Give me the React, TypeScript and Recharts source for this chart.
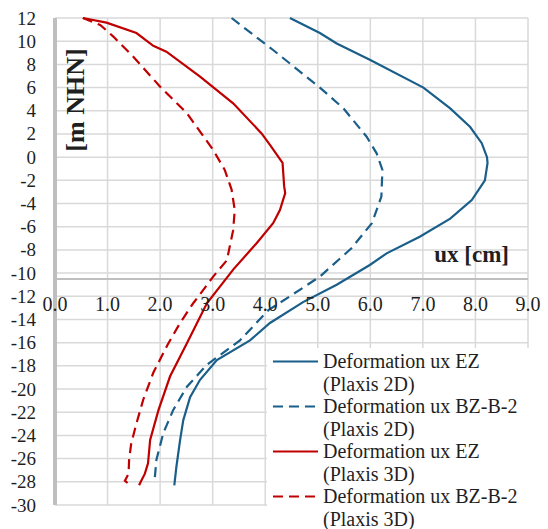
import React from 'react'
import { ScatterChart, Scatter, XAxis, YAxis, CartesianGrid, ReferenceLine, Legend } from 'recharts'

// values: ux in cm, z in m NHN
const uxTicks = [0, 1, 2, 3, 4, 5, 6, 7, 8, 9]
const elevationTicks = [12, 10, 8, 6, 4, 2, 0, -2, -4, -6, -8, -10, -12, -14, -16, -18, -20, -22, -24, -26, -28, -30]
const axisCrossing = -10.5

const ezPlaxis2D = [
  [4.47, 12], [5.04, 10.7], [5.36, 9.8], [5.99, 8.4], [7.01, 6.0], [7.52, 4.2], [7.9, 2.6],
  [8.12, 1.2], [8.22, 0], [8.23, -0.5], [8.18, -2.0], [7.93, -3.7], [7.52, -5.3], [6.94, -6.86],
  [6.31, -8.3], [5.99, -9.3], [5.36, -11.0], [4.72, -12.5], [4.09, -14.3], [3.71, -15.8],
  [3.08, -17.5], [2.76, -19.2], [2.57, -20.7], [2.44, -22.7], [2.38, -24.4], [2.31, -26.7], [2.27, -28.3],
]
const bzPlaxis2D = [
  [3.36, 12], [4.15, 9.24], [5.04, 6.0], [5.49, 4.2], [5.93, 1.76], [6.12, 0.33], [6.23, -1.1],
  [6.21, -3.4], [6.03, -5.7], [5.64, -7.86], [5.04, -10.3], [4.47, -12.0], [4.06, -13.2],
  [3.52, -15.8], [2.89, -17.9], [2.51, -19.8], [2.25, -21.8], [2.06, -23.8], [1.93, -26.1], [1.9, -27.6],
]
const ezPlaxis3D = [
  [0.53, 12], [0.98, 11.6], [1.55, 10.7], [1.87, 9.6], [2.12, 9.1], [2.76, 6.94], [3.39, 4.64],
  [3.93, 2.05], [4.09, 1.05], [4.33, -0.5], [4.36, -2.5], [4.38, -3.1], [4.28, -4.56], [4.15, -5.7],
  [3.84, -7.4], [3.39, -9.7], [2.89, -12.6], [2.51, -16.06], [2.19, -18.9], [1.97, -21.8],
  [1.81, -24.4], [1.77, -26.4], [1.71, -27.3], [1.62, -28.1], [1.6, -28.3],
]
const bzPlaxis3D = [
  [0.53, 12], [0.86, 11.4], [1.11, 10.4], [1.49, 8.66], [2.0, 6.08], [2.51, 3.78], [3.01, 0.62],
  [3.23, -1.1], [3.36, -2.8], [3.42, -4.56], [3.39, -6.3], [3.27, -8.9], [3.01, -10.3], [2.63, -12.6],
  [2.38, -14.3], [2.14, -16.2], [1.87, -18.6], [1.68, -20.9], [1.55, -22.96], [1.45, -24.7],
  [1.41, -26.1], [1.4, -27.3], [1.33, -27.9], [1.38, -28.1],
]

const seriesNames = ['Deformation ux EZ', 'Deformation ux BZ-B-2', 'Deformation ux EZ', 'Deformation ux BZ-B-2']
const seriesSubs = ['(Plaxis 2D)', '(Plaxis 2D)', '(Plaxis 3D)', '(Plaxis 3D)']

const BLUE = '#1a5e8a'
const RED = '#c00000'
const DASH = '10 6'
const SERIF = '"Liberation Serif", "Times New Roman", serif'
const TEXT = '#1f1f1f'

const W = 548
const H = 529
const M = { top: 18, right: 20, bottom: 0, left: 0 }
const X_AXIS_H = 24
const Y_AXIS_W = 55
const plotH = H - M.top - M.bottom - X_AXIS_H
const yPx = (v: number) => M.top + ((12 - v) / 42) * plotH

const series = [
  { data: ezPlaxis2D, color: BLUE, dash: undefined },
  { data: bzPlaxis2D, color: BLUE, dash: DASH },
  { data: ezPlaxis3D, color: RED, dash: undefined },
  { data: bzPlaxis3D, color: RED, dash: DASH },
].map((s, i) => ({
  ...s,
  name: seriesNames[i],
  sub: seriesSubs[i],
  points: s.data.map(([ux, z]) => ({ ux, z })),
}))

// x tick labels sit just under the crossing axis line, not at the plot bottom
const XTick = (p: any) => (
  <text x={p.x} y={yPx(-12.7)} textAnchor="middle" dominantBaseline="central"
    fontFamily={SERIF} fontSize={20} fill={TEXT}>
    {Number(p.payload.value).toFixed(1)}
  </text>
)

const YTick = (p: any) => (
  <text x={36} y={p.y} textAnchor="end" dominantBaseline="central"
    fontFamily={SERIF} fontSize={19} fill={TEXT}>
    {p.payload.value}
  </text>
)

const renderLegend = () => (
  <div style={{ fontFamily: SERIF, fontSize: 20, color: TEXT, lineHeight: '22.5px', paddingTop: 2 }}>
    {series.map((s, i) => (
      <div key={i} style={{ display: 'flex' }}>
        <svg width={56} height={22} style={{ flex: 'none' }}>
          <line x1={6} x2={51} y1={11.5} y2={11.5} stroke={s.color} strokeWidth={2.2} strokeDasharray={s.dash} />
        </svg>
        <div>{s.name}<br />{s.sub}</div>
      </div>
    ))}
  </div>
)

export default function App() {
  return (
    <div style={{ position: 'absolute', left: 0, top: 0, width: W, height: H, background: '#fff' }}>
      <ScatterChart width={W} height={H} margin={M} style={{ fontFamily: SERIF }}>
        <CartesianGrid stroke="#d9d9d9" strokeWidth={1.5} />
        <XAxis type="number" dataKey="ux" domain={[0, 9]} ticks={uxTicks} height={X_AXIS_H}
          axisLine={false} tickLine={false} tick={XTick} interval={0} />
        <YAxis type="number" dataKey="z" domain={[-30, 12]} ticks={elevationTicks} width={Y_AXIS_W}
          interval={0} axisLine={{ stroke: '#bfbfbf', strokeWidth: 4 }} tickLine={false} tick={YTick}
          label={{
            content: (p: any) => {
              const cx = p.viewBox.x + p.viewBox.width + 20
              const cy = p.viewBox.y + 82
              return (
                <text x={cx} y={cy} transform={`rotate(-90, ${cx}, ${cy})`} textAnchor="middle"
                  dominantBaseline="central" fontFamily={SERIF} fontWeight="bold" fontSize={26} fill={TEXT}>
                  [m NHN]
                </text>
              )
            },
          }} />
        <ReferenceLine y={axisCrossing} stroke="#bfbfbf" strokeWidth={2}
          label={{
            content: (p: any) => (
              <text x={p.viewBox.x + p.viewBox.width - 19} y={p.viewBox.y - 17} textAnchor="end"
                fontFamily={SERIF} fontWeight="bold" fontSize={23} fill={TEXT}>
                ux [cm]
              </text>
            ),
          }} />
        {series.map((s, i) => (
          <Scatter key={i} name={`${s.name} ${s.sub}`} data={s.points} fill={s.color}
            line={{ stroke: s.color, strokeWidth: 2.2, strokeDasharray: s.dash }}
            lineType="joint" lineJointType="linear" shape={() => <g />} isAnimationActive={false} />
        ))}
        <Legend layout="horizontal" align="center" verticalAlign="middle" content={renderLegend}
          wrapperStyle={{ left: 267, top: 348, width: 281, height: 181, background: '#fff' }} />
      </ScatterChart>
    </div>
  )
}
